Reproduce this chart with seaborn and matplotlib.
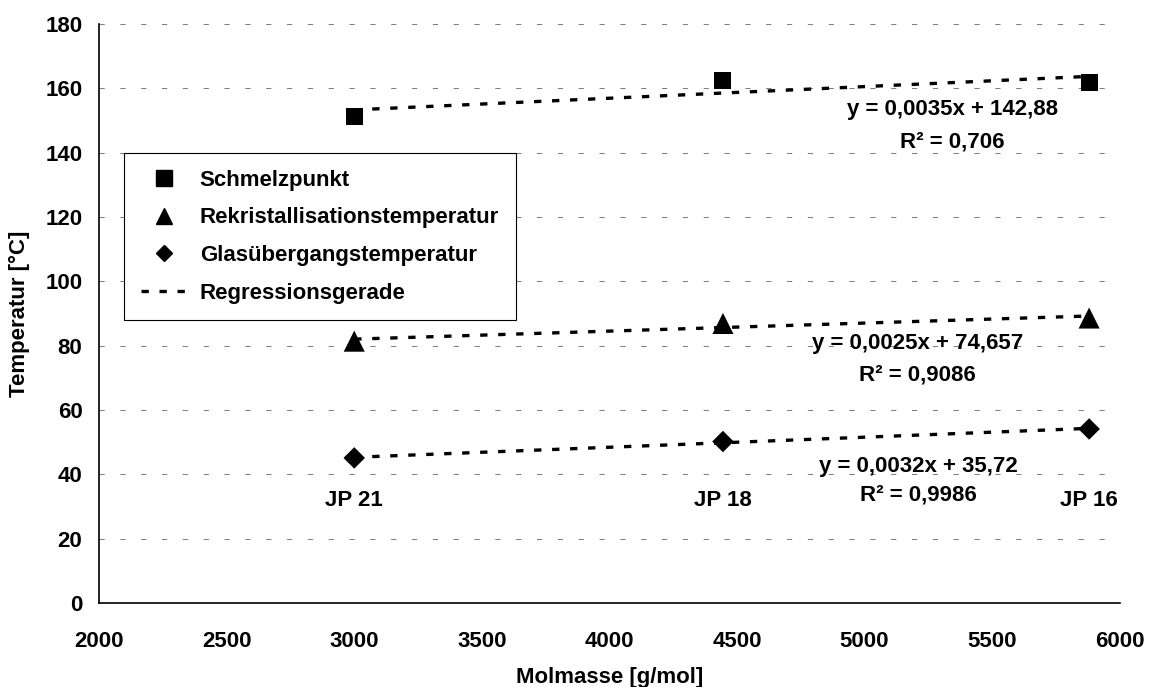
import numpy as np
import pandas as pd
import seaborn as sns
import matplotlib.pyplot as plt
from matplotlib.lines import Line2D

# data
samples = ["JP 21", "JP 18", "JP 16"]
molmasse = [3000, 4445, 5880]
schmelzpunkt = [151.4, 162.4, 161.8]
rekristallisation = [81.4, 86.9, 88.6]
glasuebergang = [45.1, 50.2, 54.1]
series_names = ["Schmelzpunkt", "Rekristallisationstemperatur", "Glasübergangstemperatur"]
series_markers = ["s", "^", "D"]
marker_sizes = [150, 230, 120]
equations = ["y = 0,0035x + 142,88", "y = 0,0025x + 74,657", "y = 0,0032x + 35,72"]
r_squared = ["R² = 0,706", "R² = 0,9086", "R² = 0,9986"]
eq_pos = [(5345, 153.3, 143.3), (5206, 80.8, 70.9), (5212, 42.3, 33.6)]
sample_label_y = 32

df = pd.DataFrame({
    "Molmasse": molmasse * 3,
    "Temperatur": schmelzpunkt + rekristallisation + glasuebergang,
    "Serie": np.repeat(series_names, 3),
})

sns.set_style("white")
plt.rcParams["font.family"] = ["Liberation Sans", "DejaVu Sans"]
plt.rcParams["font.weight"] = "bold"
plt.rcParams["axes.labelweight"] = "bold"
plt.rcParams["text.color"] = "black"
plt.rcParams["axes.labelcolor"] = "black"
plt.rcParams["xtick.color"] = "black"
plt.rcParams["ytick.color"] = "black"

fig = plt.figure(figsize=(11.52, 6.87), dpi=100)
ax = fig.add_axes([0.086, 0.1223, 0.886, 0.8427])

fs = 16
reg_ls = (0, (2.2, 3.2))

# regression lines + points
for name, m, s in zip(series_names, series_markers, marker_sizes):
    sub = df[df["Serie"] == name]
    sns.regplot(data=sub, x="Molmasse", y="Temperatur", ax=ax, ci=None,
                scatter=False, truncate=True, color="black",
                line_kws=dict(lw=2.4, ls=reg_ls, zorder=3))
    sns.scatterplot(data=sub, x="Molmasse", y="Temperatur", marker=m, s=s,
                    color="black", edgecolor="none", ax=ax, legend=False,
                    zorder=4)

ax.set_xlim(2000, 6000)
ax.set_ylim(0, 180)
ax.set_xticks(np.arange(2000, 6001, 500))
ax.set_yticks(np.arange(0, 181, 20))
ax.yaxis.grid(True, color="#808080", lw=0.75, ls=(0, (5, 15)))
ax.xaxis.grid(False)
for side in ["top", "right"]:
    ax.spines[side].set_visible(False)
for side in ["left", "bottom"]:
    ax.spines[side].set_color("black")
    ax.spines[side].set_linewidth(1.2)
ax.tick_params(axis="both", direction="out", length=5, width=1, color="black",
               labelsize=fs, labelcolor="black")
ax.tick_params(axis="y", pad=7)
ax.tick_params(axis="x", pad=15)

ax.set_xlabel("Molmasse [g/mol]", fontsize=fs)
ax.set_ylabel("Temperatur [°C]", fontsize=fs)
ax.xaxis.set_label_coords(0.5, -0.11)
ax.yaxis.set_label_coords(-0.068, 0.5)

for s, x in zip(samples, molmasse):
    ax.text(x, sample_label_y, s, ha="center", va="center", fontsize=fs,
            fontweight="bold")

for eq, r2, (x, y1, y2) in zip(equations, r_squared, eq_pos):
    ax.text(x, y1, eq, ha="center", va="center", fontsize=fs, fontweight="bold")
    ax.text(x, y2, r2, ha="center", va="center", fontsize=fs, fontweight="bold")

handles = [Line2D([], [], ls="none", marker="s", color="black", ms=11),
           Line2D([], [], ls="none", marker="^", color="black", ms=12),
           Line2D([], [], ls="none", marker="D", color="black", ms=8.5)]
handles.append(Line2D([], [], color="black", lw=2.4, ls=reg_ls))
leg = ax.legend(handles, series_names + ["Regressionsgerade"],
                loc="upper left", bbox_to_anchor=(0.0245, 0.777),
                fontsize=fs, frameon=True, fancybox=False, framealpha=1,
                edgecolor="black", borderpad=0.75, labelspacing=0.75,
                handlelength=2.1, handletextpad=0.55, borderaxespad=0)
leg.get_frame().set_linewidth(0.8)
for t in leg.get_texts():
    t.set_fontweight("bold")

fig.savefig("out.png", dpi=100, facecolor="white")
